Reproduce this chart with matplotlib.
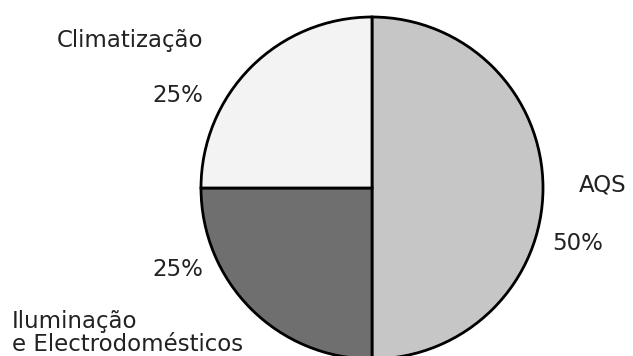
import matplotlib
matplotlib.use("Agg")
import matplotlib.pyplot as plt

categories = ["AQS", "Iluminação\ne Electrodomésticos", "Climatização"]
values = [50, 25, 25]
pct_labels = ["50%", "25%", "25%"]
colors = ["#c6c6c6", "#6f6f6f", "#f3f3f3"]

W, H = 633, 356
fig = plt.figure(figsize=(W / 100, H / 100), dpi=100)
ax = fig.add_axes([0, 0, 1, 1])

cx, cy, r = 372, H - 188, 171
ax.pie(values, colors=colors, startangle=90, counterclock=False,
       center=(cx, cy), radius=r, frame=True,
       wedgeprops=dict(edgecolor="black", linewidth=2))
ax.set_xlim(0, W)
ax.set_ylim(0, H)
ax.set_aspect("equal")
ax.axis("off")

font = dict(family="DejaVu Sans", fontsize=16.5, color="#222222")
ax.text(603, H - 185, categories[0], ha="center", va="center", **font)
ax.text(578, H - 243, pct_labels[0], ha="center", va="center", **font)
ax.text(12, H - 333, categories[1], ha="left", va="center", linespacing=1.0, **font)
ax.text(203, H - 270, pct_labels[1], ha="right", va="center", **font)
ax.text(203, H - 41, categories[2], ha="right", va="center", **font)
ax.text(203, H - 96, pct_labels[2], ha="right", va="center", **font)

fig.savefig("out.png", dpi=100)
